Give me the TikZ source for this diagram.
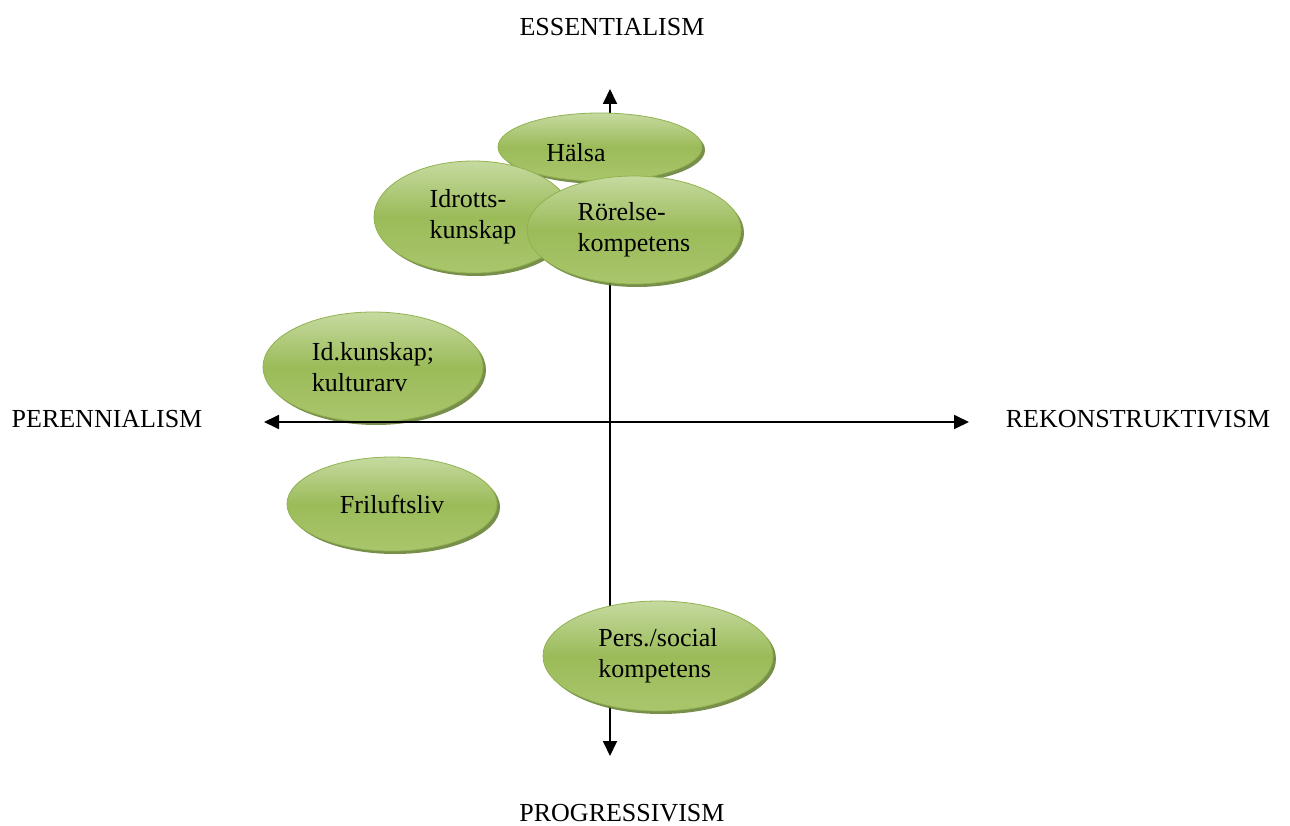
\documentclass[tikz,border=0pt]{standalone}
\usepackage{fontspec}
\setmainfont{Liberation Serif}
\usetikzlibrary{shapes.geometric,shadows,arrows.meta}
\definecolor{ogLight}{RGB}{198,218,160}
\definecolor{ogMid}{RGB}{155,187,89}
\definecolor{ogBot}{RGB}{170,198,108}
\definecolor{ogLine}{RGB}{145,178,80}
\definecolor{ogShadow}{RGB}{105,130,55}
\tikzset{
  blob/.style={ellipse, inner sep=0pt, draw=ogLine, line width=0.8pt,
    top color=ogLight, bottom color=ogBot, middle color=ogMid,
    drop shadow={shadow xshift=3pt, shadow yshift=-3pt, fill=ogShadow, opacity=0.9},
    font=\fontsize{26}{31}\selectfont, align=left},
  axislabel/.style={font=\fontsize{26}{31}\selectfont, inner sep=0pt},
  axisline/.style={line width=1.8pt, {Triangle[length=15pt,width=14pt]}-{Triangle[length=15pt,width=14pt]}},
  txt/.style={font=\fontsize{26}{31}\selectfont, inner sep=0pt, align=left}
}
\begin{document}
\begin{tikzpicture}[x=1pt,y=-1pt]
\useasboundingbox (0,0) rectangle (1290,826);
\coordinate (top) at (610,89);
\coordinate (bot) at (610,756);
\coordinate (left) at (264,422);
\coordinate (right) at (969,422);
\draw[axisline] (top) -- (bot);
\node[axislabel] (ess) at (612,27) {ESSENTIALISM};
\node[axislabel] (per) at (107,419) {PERENNIALISM};
\node[axislabel] (rek) at (1138,419) {REKONSTRUKTIVISM};
\node[axislabel] (pro) at (622,813) {PROGRESSIVISM};
\node[blob, minimum width=204pt, minimum height=68pt] (halsa) at (600,147) {};
\node[txt] (halsatext) at (576,153) {Hälsa};
\node[blob, minimum width=198pt, minimum height=112pt] (idrott) at (473,217) {Idrotts-\\kunskap};
\node[blob, minimum width=214pt, minimum height=108pt] (rorelse) at (634,230) {Rörelse-\\kompetens};
\node[blob, minimum width=220pt, minimum height=110pt] (idk) at (373,367) {Id.kunskap;\\kulturarv};
\node[blob, minimum width=210pt, minimum height=94pt] (fril) at (392,504) {Friluftsliv};
\node[blob, minimum width=230pt, minimum height=110pt] (pers) at (658,656) {Pers./social\\kompetens};
\draw[axisline] (left) -- (right);
\end{tikzpicture}
\end{document}
